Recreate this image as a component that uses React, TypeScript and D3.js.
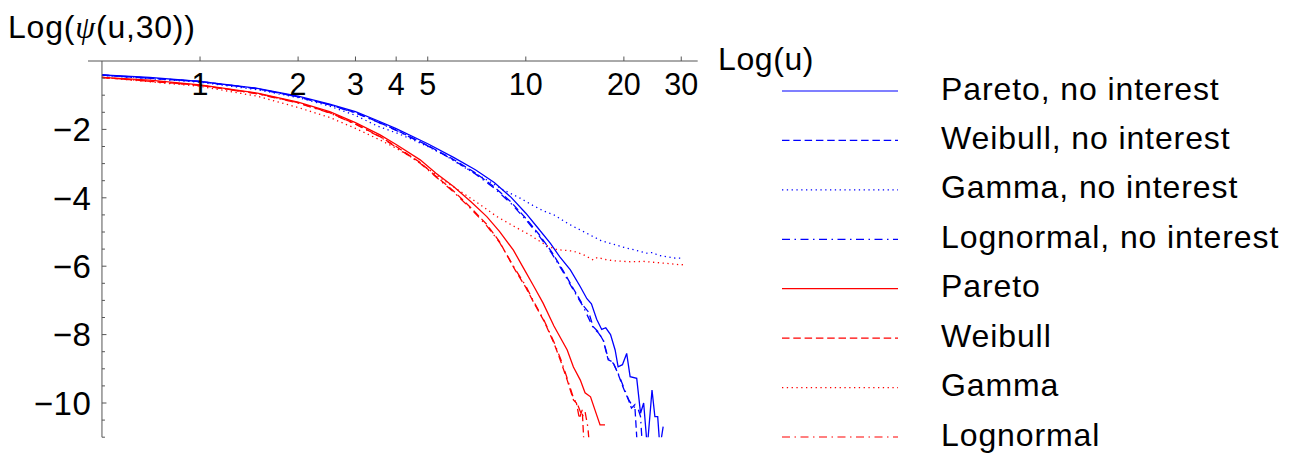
import React from "react";
import * as d3 from "d3";

// Axis ticks
const uTicks = [1, 2, 3, 4, 5, 10, 20, 30];
const vMajorTicks = [-2, -4, -6, -8, -10];
const vMinorTicks = d3.range(-0.5, -11.01, -0.5).filter((v) => !vMajorTicks.includes(v));

// Log ruin probability over horizon 30, as [u, log psi(u,30)]
const paretoNoInterest: [number, number][] = [
  [0.5, -0.41], [0.7, -0.48], [1, -0.6], [1.5, -0.8], [2, -1.03], [2.5, -1.26], [3, -1.48],
  [3.5, -1.74], [4, -1.98], [5, -2.42], [6, -2.82], [7, -3.18], [8, -3.55], [9, -3.98],
  [10, -4.45], [10.8, -4.84], [11.9, -5.33], [12.7, -5.72], [13.7, -6.11], [14.7, -6.6],
  [15.4, -6.95], [15.9, -7.1], [16.5, -7.55], [17.1, -7.85], [17.6, -7.8], [18.2, -8.0],
  [18.8, -8.45], [19.2, -8.94], [19.8, -8.88], [20.4, -8.55], [20.9, -9.23], [21.9, -9.28],
  [22.5, -10.3], [23.0, -10.0], [23.6, -11.3], [24.4, -9.62], [24.9, -10.4], [25.4, -10.4],
  [25.8, -11.3], [26.4, -10.69],
];
const weibullNoInterest: [number, number][] = [
  [0.5, -0.41], [1, -0.6], [1.5, -0.81], [2, -1.05], [2.5, -1.28], [3, -1.51], [3.5, -1.77],
  [4, -2.02], [5, -2.47], [6, -2.88], [7, -3.27], [8, -3.68], [9, -4.12], [10, -4.6],
  [11, -5.08], [12, -5.58], [13, -6.12], [14, -6.66], [15, -7.15], [15.6, -7.35],
  [16.1, -7.77], [16.7, -7.92], [17.3, -8.18], [17.9, -8.74], [18.5, -8.8], [19.2, -9.15],
  [19.9, -9.55], [20.7, -9.93], [21.1, -10.15], [21.6, -10.05], [22.0, -11.3],
];
const gammaNoInterest: [number, number][] = [
  [0.5, -0.42], [1, -0.62], [1.5, -0.84], [2, -1.07], [2.5, -1.32], [3, -1.59], [3.5, -1.9],
  [4, -2.1], [4.5, -2.3], [5, -2.5], [5.7, -2.78], [6.5, -3.12], [7.6, -3.48], [8.5, -3.76],
  [9.6, -4.01], [10.5, -4.22], [11.3, -4.38], [12.2, -4.5], [13.5, -4.76], [15.4, -5.04],
  [17, -5.25], [18.6, -5.36], [20, -5.45], [21.5, -5.52], [23.5, -5.62], [24.5, -5.6],
  [25.5, -5.68], [27, -5.72], [28.5, -5.76], [30.5, -5.77],
];
const lognormalNoInterest: [number, number][] = [
  [0.5, -0.41], [1, -0.6], [1.5, -0.81], [2, -1.05], [2.5, -1.28], [3, -1.52], [3.5, -1.78],
  [4, -2.03], [5, -2.48], [6, -2.9], [7, -3.3], [8, -3.72], [9, -4.16], [10, -4.64],
  [11, -5.12], [12, -5.62], [13, -6.16], [14, -6.7], [15, -7.18], [16.1, -7.8], [16.7, -7.95],
  [17.3, -8.16], [17.9, -8.7], [18.6, -8.85], [19.2, -9.13], [19.9, -9.5], [20.7, -9.91],
  [21.3, -10.1], [22.1, -10.16], [22.5, -10.4], [22.8, -11.3],
];
const paretoInterest: [number, number][] = [
  [0.5, -0.48], [0.7, -0.56], [1, -0.7], [1.5, -0.94], [2, -1.2], [2.5, -1.48], [3, -1.8],
  [3.57, -2.16], [4, -2.44], [4.74, -2.89], [5.3, -3.28], [6, -3.67], [6.8, -4.12],
  [7.59, -4.55], [8.3, -4.98], [9.16, -5.53], [9.83, -6.05], [10.6, -6.6], [11.3, -7.08],
  [12.2, -7.75], [13.4, -8.45], [14.0, -8.95], [14.7, -9.33], [15.2, -9.7], [15.8, -9.82],
  [16.3, -10.2], [16.9, -10.64], [17.5, -10.64],
];
const weibullInterest: [number, number][] = [
  [0.5, -0.48], [1, -0.71], [1.5, -0.95], [2, -1.22], [2.5, -1.51], [3, -1.84], [3.57, -2.21],
  [4, -2.5], [4.74, -2.97], [5.3, -3.37], [6, -3.8], [6.8, -4.3], [7.59, -4.78], [8.3, -5.28],
  [9.27, -6.11], [10.0, -6.62], [10.6, -7.08], [11.4, -7.62], [12.2, -8.25], [12.8, -8.78],
  [13.4, -9.33], [14.0, -9.91], [14.3, -10.0], [14.6, -10.45], [14.9, -10.2], [15.1, -11.3],
];
const gammaInterest: [number, number][] = [
  [0.5, -0.48], [1, -0.74], [1.5, -1.03], [2, -1.36], [2.5, -1.65], [3, -1.97], [3.57, -2.31],
  [4, -2.55], [4.52, -2.85], [5, -3.15], [5.72, -3.55], [6.43, -3.87], [7.24, -4.2],
  [8.15, -4.55], [9.14, -4.82], [10.3, -5.09], [11.6, -5.4], [12.5, -5.52], [13.0, -5.53],
  [14.0, -5.56], [15.0, -5.66], [16.1, -5.82], [16.6, -5.74], [17.4, -5.8], [18.5, -5.84],
  [20.9, -5.87], [23, -5.86], [26.4, -5.91], [28, -5.93], [29.8, -5.96], [30.8, -5.95],
];
const lognormalInterest: [number, number][] = [
  [0.5, -0.48], [1, -0.71], [1.5, -0.96], [2, -1.23], [2.5, -1.52], [3, -1.85], [3.57, -2.22],
  [4, -2.52], [4.74, -2.99], [5.3, -3.39], [6, -3.83], [6.8, -4.33], [7.59, -4.82], [8.3, -5.3],
  [9.27, -6.08], [10.0, -6.58], [10.6, -7.05], [11.4, -7.6], [12.2, -8.22], [12.8, -8.72],
  [13.4, -9.28], [14.0, -9.85], [14.5, -10.1], [14.9, -10.4], [15.2, -10.25], [15.5, -10.7],
  [15.7, -11.3],
];

const BLUE = "#0000ff";
const RED = "#ff0000";
const SOLID = "none";
const DASHED = "7.5,3.8";
const DOTTED = "1.3,3.5";
const DASHDOT = "8,4.5,1.5,4.5";

const series = [
  { label: "Pareto, no interest", data: paretoNoInterest, color: BLUE, dash: SOLID },
  { label: "Weibull, no interest", data: weibullNoInterest, color: BLUE, dash: DASHED },
  { label: "Gamma, no interest", data: gammaNoInterest, color: BLUE, dash: DOTTED },
  { label: "Lognormal, no interest", data: lognormalNoInterest, color: BLUE, dash: DASHDOT },
  { label: "Pareto", data: paretoInterest, color: RED, dash: SOLID },
  { label: "Weibull", data: weibullInterest, color: RED, dash: DASHED },
  { label: "Gamma", data: gammaInterest, color: RED, dash: DOTTED },
  { label: "Lognormal", data: lognormalInterest, color: RED, dash: DASHDOT },
];

const FONT = "'Liberation Sans', Arial, Helvetica, sans-serif";
const AXIS = "#555555";
const SPACING = 0.9;

export default function App() {
  const x = d3.scaleLog().domain([0.453, 33.7]).range([88, 697.7]);
  const y = d3.scaleLinear().domain([0, -11]).range([61, 437.2]);
  const x0 = x(0.5);

  const line = d3
    .line<[number, number]>()
    .x((d) => x(d[0]))
    .y((d) => y(d[1]));

  const legendX1 = 782;
  const legendX2 = 898;
  const legendTextX = 941;
  const legendY = (i: number) => 91 + i * 49.43;

  return (
    <svg
      width={1292}
      height={454}
      style={{ position: "absolute", left: 0, top: 0, background: "#fff" }}
      fontFamily={FONT}
    >
      <defs>
        <clipPath id="plotArea">
          <rect x={x0 - 1} y={y(0) - 10} width={x(33.7) - x0 + 2} height={y(-11) - y(0) + 10} />
        </clipPath>
      </defs>

      {/* curves */}
      <g clipPath="url(#plotArea)">
        {series.map((s) => (
          <path
            key={s.label}
            d={line(s.data) ?? ""}
            fill="none"
            stroke={s.color}
            strokeWidth={1.3}
            strokeDasharray={s.dash}
          />
        ))}
      </g>

      {/* x axis */}
      <line x1={88} x2={697.7} y1={y(0)} y2={y(0)} stroke={AXIS} strokeWidth={1} />
      {uTicks.map((u) => (
        <g key={u}>
          <line x1={x(u)} x2={x(u)} y1={y(0)} y2={y(0) - 4.5} stroke={AXIS} strokeWidth={1} />
          <text x={x(u)} y={95} textAnchor="middle" fontSize={30.5} fill="#000">
            {u}
          </text>
        </g>
      ))}
      <text x={718} y={69.5} fontSize={32} fill="#000" letterSpacing={0.6}>
        Log(u)
      </text>

      {/* y axis */}
      <line x1={x0} x2={x0} y1={y(0)} y2={y(-11)} stroke={AXIS} strokeWidth={1} />
      {vMinorTicks.map((v) => (
        <line key={v} x1={x0} x2={x0 + 3} y1={y(v)} y2={y(v)} stroke={AXIS} strokeWidth={1} />
      ))}
      {vMajorTicks.map((v) => (
        <g key={v}>
          <line x1={x0} x2={x0 + 4.5} y1={y(v)} y2={y(v)} stroke={AXIS} strokeWidth={1} />
          <text
            x={91.5}
            y={y(v)}
            dy="0.36em"
            textAnchor="end"
            fontSize={33}
            fill="#000"
            letterSpacing={0.6}
          >
            {"\u2212" + Math.abs(v)}
          </text>
        </g>
      ))}
      <text x={8} y={38} fontSize={32} fill="#000" letterSpacing={0.8}>
        Log(
        <tspan fontFamily="'Liberation Serif', 'Times New Roman', serif" fontStyle="italic">
          ψ
        </tspan>
        (u,30))
      </text>

      {/* legend */}
      {series.map((s, i) => (
        <g key={s.label}>
          <line
            x1={legendX1}
            x2={legendX2}
            y1={legendY(i)}
            y2={legendY(i)}
            stroke={s.color}
            strokeWidth={1.2}
            strokeDasharray={s.dash}
          />
          <text
            x={legendTextX}
            y={legendY(i) + 8.5}
            fontSize={32}
            fill="#000"
            letterSpacing={SPACING}
          >
            {s.label}
          </text>
        </g>
      ))}
    </svg>
  );
}
